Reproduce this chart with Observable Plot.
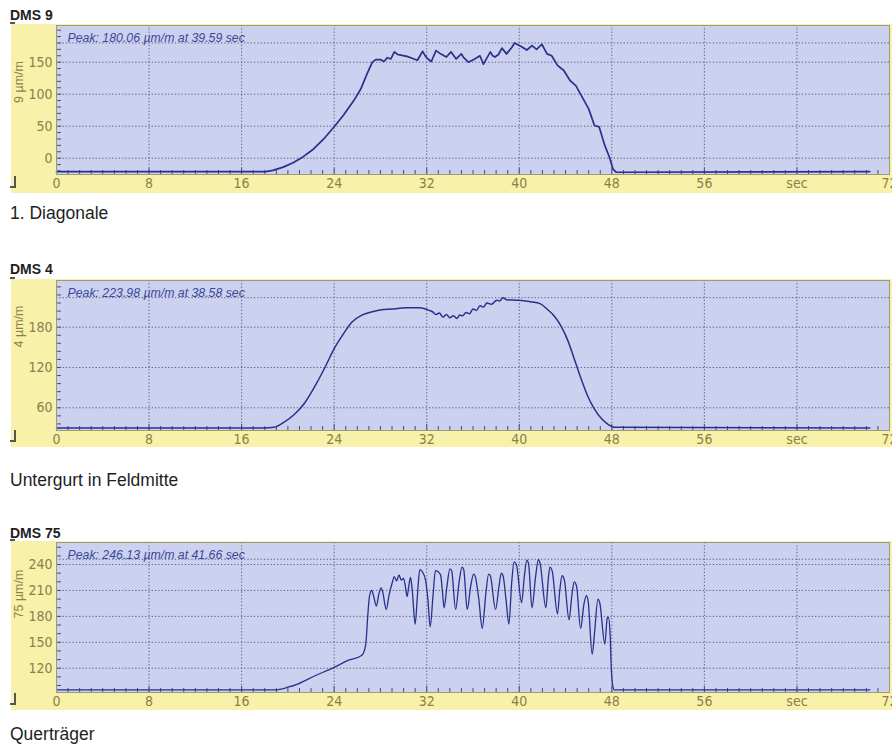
<!DOCTYPE html>
<html><head><meta charset="utf-8">
<script src="https://cdn.jsdelivr.net/npm/d3@7"></script>
<script src="https://cdn.jsdelivr.net/npm/@observablehq/plot@0.6"></script>
<style>
body{margin:0;background:#fff;font-family:"Liberation Sans",Arial,sans-serif;}
#root{position:relative;width:892px;height:747px;overflow:hidden;background:#fff;}
.t{position:absolute;left:10px;color:#1e1e1e;line-height:1;white-space:nowrap;}
.title{font-weight:bold;font-size:14px;}
.cap{font-size:17.5px;}
.p{position:absolute;left:11px;}
.dash{position:absolute;left:10px;width:5px;height:2px;background:#555;}
.brk{position:absolute;left:10px;width:4px;height:10px;border-right:2px solid #555;border-bottom:2px solid #555;}
</style></head><body><div id="root">
<div class="t title" style="top:8px">DMS 9</div>
<div class="dash" style="top:22px"></div>
<div class="p" id="p1" style="top:24px"></div>
<div class="brk" style="top:176px"></div>
<div class="t cap" style="top:205px">1. Diagonale</div>
<div class="t title" style="top:262px">DMS 4</div>
<div class="dash" style="top:277px"></div>
<div class="p" id="p2" style="top:279px"></div>
<div class="brk" style="top:430px"></div>
<div class="t cap" style="top:472px">Untergurt in Feldmitte</div>
<div class="t title" style="top:526px">DMS 75</div>
<div class="dash" style="top:539px"></div>
<div class="p" id="p3" style="top:541px"></div>
<div class="brk" style="top:693px"></div>
<div class="t cap" style="top:726px">Querträger</div>
</div>
<script>
// ---- data (time in sec, strain in µm/m) ----
const xTickValues = [0, 8, 16, 24, 32, 40, 48, 56, 64, 72];
const xTickLabels = ["0", "8", "16", "24", "32", "40", "48", "56", "sec", "72"];

const dms9T = [0, 18.1, 18.7, 19.6, 20.45, 21.3, 22.2, 23.1, 24, 24.8, 25.7, 26.3, 26.85, 27.3, 27.6, 28.0, 28.3, 28.6, 28.9, 29.2, 29.5, 29.75, 30.3, 30.9, 31.2, 31.65, 31.9, 32.1, 32.4, 32.8, 33.2, 33.5, 33.7, 34.1, 34.55, 35.0, 35.2, 35.6, 36.15, 36.6, 36.9, 37.5, 37.7, 37.9, 38.2, 38.5, 38.9, 39.35, 39.59, 40.0, 40.2, 40.65, 41.1, 41.5, 41.95, 42.4, 42.8, 43.3, 43.85, 44.4, 44.9, 45.45, 46.0, 46.5, 46.9, 47.35, 47.8, 48.1, 48.4, 70.3];
const dms9V = [-21, -21, -19, -14, -7, 2, 14, 30, 49, 67, 90, 108, 132, 150, 154, 154, 151, 157, 155, 166, 162, 161, 159, 155, 153, 167, 159, 155, 151, 168, 163, 160, 158, 166, 155, 163, 157, 150, 155, 160, 147, 166, 160, 158, 162, 172, 163, 173, 180, 176, 174, 169, 176, 170, 178, 163, 160, 145, 137, 121, 113, 95, 77, 51, 49, 22, 1, -17, -22, -21];

const dms4T = [0, 17.9, 18.8, 19.7, 20.55, 21.4, 22.3, 23.2, 24, 24.8, 25.5, 26.4, 27.3, 28.1, 29.0, 30.2, 31.35, 31.9, 32.2, 32.5, 32.8, 33.1, 33.4, 33.7, 34.0, 34.3, 34.6, 34.85, 35.1, 35.4, 35.7, 36.0, 36.3, 36.6, 36.9, 37.2, 37.6, 38.05, 38.3, 38.58, 38.9, 39.9, 40.95, 41.8, 42.4, 43.0, 43.6, 44.2, 44.75, 45.35, 45.9, 46.5, 47.1, 47.7, 48.25, 70.3];
const dms4V = [30, 30, 31, 39, 50, 66, 91, 120, 148, 170, 187, 198, 203, 206, 207, 209, 209, 207, 205, 203, 199, 201, 195, 199, 194, 197, 193, 198, 197, 202, 200, 207, 205, 212, 210, 216, 214, 220, 219, 224, 221, 220, 218, 215, 207, 197, 182, 160, 133, 103, 78, 58, 44, 35, 31, 30];

const dms75T = [0, 18.9, 20.0, 20.9, 22.3, 24, 25.2, 26.4, 26.6, 26.75, 26.9, 27.05, 27.25, 27.4, 27.65, 27.85, 28.05, 28.2, 28.5, 28.75, 29.0, 29.2, 29.4, 29.6, 29.8, 30.0, 30.15, 30.3, 30.45, 30.6, 30.75, 31.0, 31.2, 31.4, 31.6, 31.9, 32.1, 32.3, 32.55, 32.75, 32.95, 33.2, 33.35, 33.5, 33.75, 34.0, 34.15, 34.5, 34.8, 35.05, 35.2, 35.5, 35.8, 36.05, 36.2, 36.5, 36.8, 37.1, 37.35, 37.5, 37.95, 38.25, 38.45, 38.6, 38.85, 39.1, 39.35, 39.55, 39.75, 40.2, 40.45, 40.65, 40.8, 41.1, 41.4, 41.66, 41.8, 42.3, 42.5, 42.65, 42.85, 43.3, 43.5, 43.7, 43.9, 44.3, 44.55, 44.75, 44.95, 45.3, 45.6, 45.8, 45.95, 46.3, 46.5, 46.8, 46.95, 47.4, 47.6, 47.7, 47.85, 47.95, 48.1, 48.2, 70.3];
const dms75V = [95, 95, 98, 102, 111, 121, 129, 135, 140, 150, 180, 203, 210, 204, 192, 205, 213, 208, 188, 205, 218, 226, 221, 228, 222, 224, 215, 203, 215, 225, 210, 171, 205, 234, 232, 222, 200, 168, 205, 233, 232, 228, 210, 190, 215, 235, 233, 188, 220, 237, 234, 188, 215, 229, 226, 200, 166, 205, 229, 227, 188, 215, 230, 227, 200, 171, 220, 243, 240, 196, 228, 245, 241, 190, 225, 246, 241, 190, 222, 237, 232, 183, 210, 227, 222, 176, 205, 220, 215, 166, 195, 204, 198, 136, 160, 200, 196, 148, 178, 179, 160, 121, 98, 95, 95];

const yTicks9 = [0, 50, 100, 150];
const yTicks4 = [60, 120, 180];
const yTicks75 = [120, 150, 180, 210, 240];

// ---- styling ----
const YELLOW = "#f8f1aa";
const BLUE = "#cbd1ef";
const LINE = "#27318c";
const GRID = "#5d6183";
const OLIVE = "#8a8048";
const NARROW = '"Liberation Sans Narrow","DejaVu Sans Condensed","Liberation Sans",Arial,sans-serif';

function range(a, b, s) { const r = []; for (let v = a; v <= b + 1e-9; v += s) r.push(+v.toFixed(6)); return r; }

function panel(cfg) {
  const W = 881, mL = 45, mR = 3, mT = 1;
  const plotH = cfg.height - mT - cfg.mB;
  const plotW = W - mL - mR;
  const data = cfg.t.map((x, i) => ({t: x, v: cfg.v[i]}));
  const xMinor = range(1, 71, 1).filter(d => d % 8 !== 0);
  const yMinor = range(cfg.minorStart, cfg.domain[1], cfg.minorStep);
  return Plot.plot({
    width: W, height: cfg.height,
    marginLeft: mL, marginRight: mR, marginTop: mT, marginBottom: cfg.mB,
    style: {background: YELLOW, color: OLIVE, fontFamily: NARROW, fontSize: "14px", overflow: "hidden"},
    x: {domain: [0, 72]},
    y: {domain: cfg.domain},
    marks: [
      Plot.frame({fill: BLUE}),
      Plot.ruleX(xTickValues.slice(1, -1), {stroke: GRID, strokeDasharray: "1.3,2"}),
      Plot.ruleY([...cfg.yTicks, cfg.peak], {stroke: GRID, strokeDasharray: "1.3,2"}),
      Plot.tickX(xMinor, {x: d => d, insetTop: plotH - 4, stroke: "#4a4f6a"}),
      Plot.tickX(xTickValues.slice(1, -1), {x: d => d, insetTop: plotH - 6, stroke: "#4a4f6a"}),
      Plot.tickY(yMinor, {y: d => d, insetRight: plotW - 5, stroke: "#4a4f6a"}),
      Plot.line(data, {x: "t", y: "v", stroke: LINE, strokeWidth: cfg.sw, curve: cfg.curve}),
      Plot.frame({stroke: "#9c9a78"}),
      Plot.axisX({ticks: xTickValues, tickSize: 0, tickPadding: 4, tickFormat: d => xTickLabels[xTickValues.indexOf(d)], label: null}),
      Plot.axisY({ticks: cfg.yTicks, tickSize: 0, tickPadding: 4, label: null}),
      Plot.text([cfg.ylabel], {frameAnchor: "left", dx: -38, dy: cfg.ldy, rotate: -90, fill: OLIVE, fontSize: 12.5, fontFamily: '"Liberation Sans",Arial,sans-serif', text: d => d}),
      Plot.text([cfg.peakText], {frameAnchor: "top-left", dx: 11, dy: 8, textAnchor: "start", fill: "#3b489a", fontStyle: "italic", fontSize: 12.3, fontFamily: '"Liberation Sans",Arial,sans-serif', text: d => d})
    ]
  });
}

document.getElementById("p1").appendChild(panel({
  t: dms9T, v: dms9V, domain: [-25.5, 207.3], yTicks: yTicks9, minorStart: -20, minorStep: 10,
  peak: 180.06, peakText: "Peak: 180.06 µm/m at 39.59 sec", ylabel: "9 µm/m", ldy: 3,
  height: 169, mB: 19, sw: 1.7, curve: "linear"
}));
document.getElementById("p2").appendChild(panel({
  t: dms4T, v: dms4V, domain: [26.2, 249.5], yTicks: yTicks4, minorStart: 36, minorStep: 12,
  peak: 223.98, peakText: "Peak: 223.98 µm/m at 38.58 sec", ylabel: "4 µm/m", ldy: -8,
  height: 168, mB: 17, sw: 1.5, curve: "monotone-x"
}));
document.getElementById("p3").appendChild(panel({
  t: dms75T, v: dms75V, domain: [91.9, 265.5], yTicks: yTicks75, minorStart: 100, minorStep: 10,
  peak: 246.13, peakText: "Peak: 246.13 µm/m at 41.66 sec", ylabel: "75 µm/m", ldy: 1,
  height: 169, mB: 18, sw: 1.3, curve: "monotone-x"
}));
</script>
</body></html>
